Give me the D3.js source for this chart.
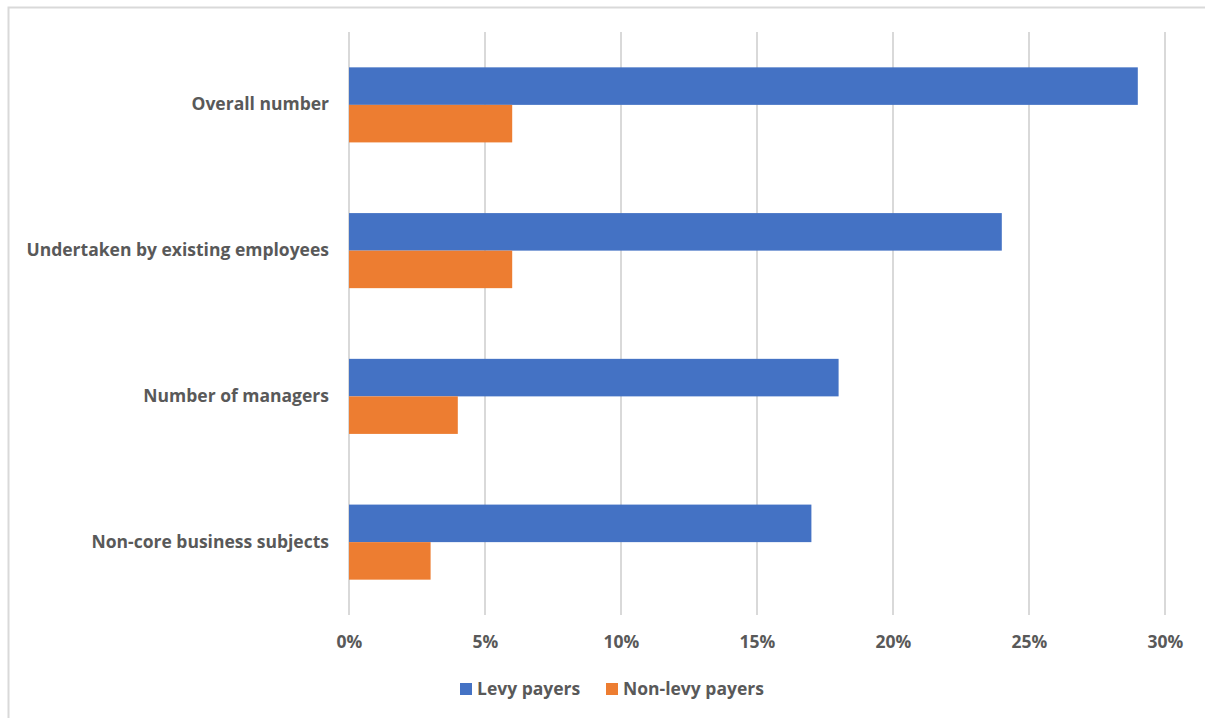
<!DOCTYPE html>
<html>
<head>
<meta charset="utf-8">
<script src="https://cdn.jsdelivr.net/npm/d3@7"></script>
<style>
  html, body { margin: 0; padding: 0; background: #fff; }
  svg { display: block; }
  text { font-family: "Open Sans", Lato, sans-serif; font-weight: bold; fill: #595959; }
</style>
</head>
<body>
<svg id="chart" width="1205" height="718"></svg>
<script>
// Categories, top to bottom
const categories = [
  "Overall number",
  "Undertaken by existing employees",
  "Number of managers",
  "Non-core business subjects"
];
// Share of employers (%) per series
const levyPayers = [29, 24, 18, 17];
const nonLevyPayers = [6, 6, 4, 3];
const seriesNames = ["Levy payers", "Non-levy payers"];
const seriesColors = ["#4472C4", "#ED7D31"];
const xTicks = [0, 5, 10, 15, 20, 25, 30];

const svg = d3.select("#chart");
const fontSize = 17.5;

// outer chart frame (left and top edges visible)
svg.append("rect")
  .attr("x", 8.5).attr("y", 7.5)
  .attr("width", 1300).attr("height", 800)
  .attr("fill", "none").attr("stroke", "#d9d9d9").attr("stroke-width", 2);

const plot = { left: 349, right: 1165, top: 32, bottom: 615 };

const x = d3.scaleLinear().domain([0, 30]).range([plot.left, plot.right]);
const y = d3.scaleBand().domain(categories).range([plot.top, plot.bottom]).paddingInner(0.485).paddingOuter(0.2425);
const ySub = d3.scaleBand().domain(seriesNames).range([0, y.bandwidth()]);

// vertical gridlines
svg.append("g")
  .selectAll("line")
  .data(xTicks)
  .join("line")
  .attr("x1", d => x(d)).attr("x2", d => x(d))
  .attr("y1", plot.top).attr("y2", plot.bottom)
  .attr("stroke", "#d9d9d9").attr("stroke-width", 2);

// x axis labels
const xAxis = d3.axisBottom(x).tickValues(xTicks).tickFormat(d => d + "%").tickSize(0).tickPadding(0);
const gx = svg.append("g").attr("transform", `translate(0, ${plot.bottom + 21})`).call(xAxis);
gx.select(".domain").remove();
gx.selectAll("text").attr("font-size", fontSize).attr("dy", "0.71em").attr("font-family", null);

// category labels
const yAxis = d3.axisLeft(y).tickSize(0).tickPadding(20);
const gy = svg.append("g").attr("transform", `translate(${plot.left}, 0)`).call(yAxis);
gy.select(".domain").remove();
gy.selectAll("text").attr("font-size", fontSize).attr("font-family", null);

// bars
const rows = categories.map((c, i) => ({ cat: c, vals: [levyPayers[i], nonLevyPayers[i]] }));
const groups = svg.append("g").selectAll("g")
  .data(rows)
  .join("g")
  .attr("transform", d => `translate(0, ${y(d.cat)})`);

groups.selectAll("rect")
  .data(d => d.vals.map((v, j) => ({ v, s: seriesNames[j], c: seriesColors[j] })))
  .join("rect")
  .attr("x", x(0))
  .attr("y", d => ySub(d.s))
  .attr("width", d => x(d.v) - x(0))
  .attr("height", ySub.bandwidth())
  .attr("fill", d => d.c);

// legend
const legend = svg.append("g").attr("transform", "translate(460, 689)");
const legendX = [0, 146];
seriesNames.forEach((name, i) => {
  const g = legend.append("g").attr("transform", `translate(${legendX[i]}, 0)`);
  g.append("rect").attr("x", 0).attr("y", -6).attr("width", 12).attr("height", 12).attr("fill", seriesColors[i]);
  g.append("text").attr("x", 17).attr("y", 0).attr("dy", "0.35em").attr("font-size", fontSize).text(name);
});
</script>
</body>
</html>
